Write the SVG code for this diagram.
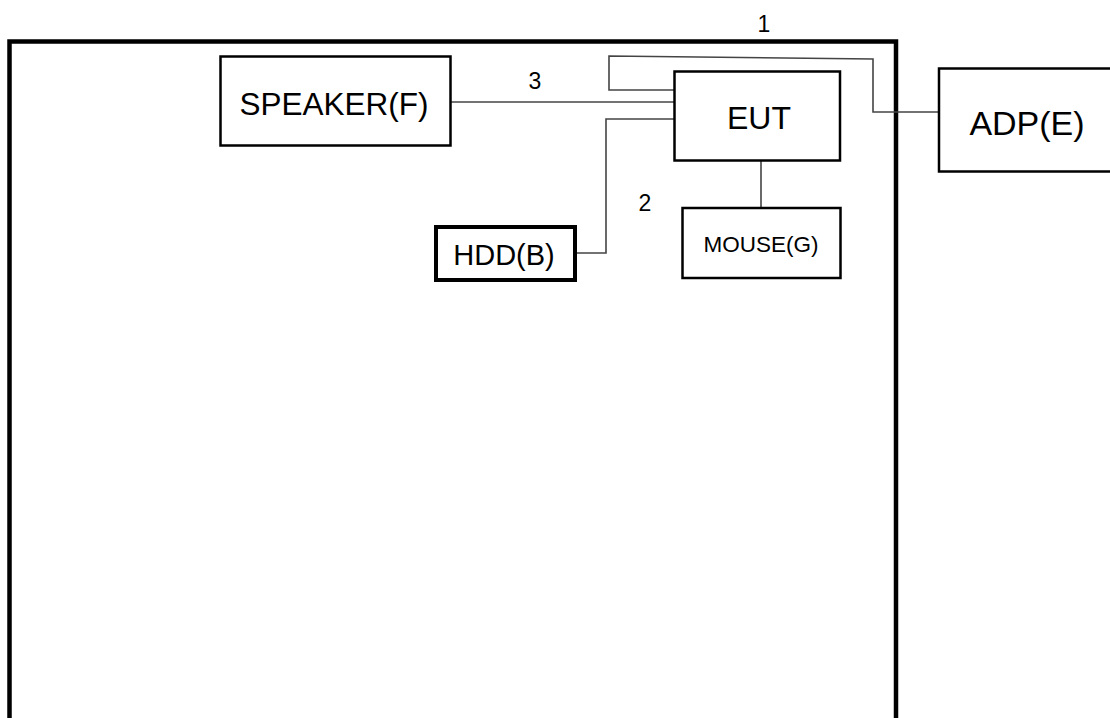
<svg xmlns="http://www.w3.org/2000/svg" width="1110" height="718" viewBox="0 0 1110 718">
<style>
.box{fill:#fff;stroke:#000;stroke-width:2.5}
.thick{stroke-width:4}
.lbl{font-family:"Liberation Sans",Arial,sans-serif;fill:#000;text-anchor:middle}
.num{font-family:"Liberation Sans",Arial,sans-serif;font-size:23px;fill:#000;text-anchor:middle}
.wire{fill:none;stroke:#444;stroke-width:1.6}
</style>
<rect width="1110" height="718" fill="#fff"/>
<g id="frame">
<path d="M9.5,730 V41.5 H896 V730" fill="none" stroke="#000" stroke-width="4.5"/>
</g>
<g id="connectors">
<path class="wire" d="M674,90 H609 V56 L873,59 V112 H939"/>
<path class="wire" d="M451,102 H674"/>
<path class="wire" d="M674,119 H606 V253 H576"/>
<path class="wire" d="M761,161 V208"/>
<text class="num" x="764" y="32">1</text>
<text class="num" x="535" y="89">3</text>
<text class="num" x="645" y="211">2</text>
</g>
<g id="speaker">
<rect class="box" x="220.5" y="56.5" width="230" height="89"/>
<text class="lbl" x="334" y="115" font-size="31.5">SPEAKER(F)</text>
</g>
<g id="eut">
<rect class="box" x="674.5" y="71.5" width="165.5" height="89"/>
<text class="lbl" x="759" y="129" font-size="32">EUT</text>
</g>
<g id="adp">
<rect class="box" x="939" y="68.5" width="180" height="103"/>
<text class="lbl" x="1027" y="135" font-size="34">ADP(E)</text>
</g>
<g id="hdd">
<rect class="box thick" x="436" y="227" width="139" height="53"/>
<text class="lbl" x="504" y="265" font-size="29">HDD(B)</text>
</g>
<g id="mouse">
<rect class="box" x="682.5" y="208" width="158" height="70"/>
<text class="lbl" x="761" y="252" font-size="22.5">MOUSE(G)</text>
</g>
</svg>
